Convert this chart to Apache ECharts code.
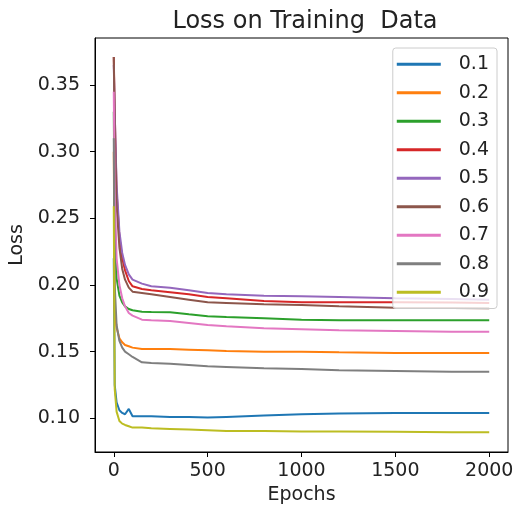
<!DOCTYPE html>
<html>
<head>
<meta charset="utf-8">
<script src="https://cdn.jsdelivr.net/npm/echarts@6/dist/echarts.min.js"></script>
<style>
    html, body {margin: 0; padding: 0; background: #fff;}
    #chart {width: 514px; height: 512px;}
</style>
</head>
<body>
<div id="chart"></div>
<script>
var epochs = [0, 5, 15, 30, 45, 60, 80, 100, 150, 200, 300, 400, 500, 600, 800, 1000, 1200, 1500, 1800, 2000];
var names = ['0.1', '0.2', '0.3', '0.4', '0.5', '0.6', '0.7', '0.8', '0.9'];
var loss01 = [0.220, 0.125, 0.112, 0.106, 0.104, 0.103, 0.107, 0.1015, 0.1015, 0.1015, 0.101, 0.101, 0.1005, 0.101, 0.102, 0.103, 0.1035, 0.104, 0.104, 0.104];
var loss02 = [0.300, 0.180, 0.168, 0.160, 0.157, 0.155, 0.154, 0.153, 0.152, 0.152, 0.152, 0.1515, 0.151, 0.1505, 0.150, 0.150, 0.1495, 0.149, 0.149, 0.149];
var loss03 = [0.330, 0.240, 0.205, 0.192, 0.187, 0.184, 0.182, 0.181, 0.180, 0.1798, 0.1795, 0.178, 0.1766, 0.176, 0.175, 0.174, 0.1736, 0.1736, 0.1735, 0.1735];
var loss04 = [0.371, 0.330, 0.270, 0.236, 0.220, 0.211, 0.203, 0.199, 0.197, 0.196, 0.1946, 0.193, 0.191, 0.190, 0.188, 0.187, 0.187, 0.187, 0.1868, 0.1865];
var loss05 = [0.365, 0.330, 0.275, 0.240, 0.224, 0.215, 0.208, 0.204, 0.201, 0.199, 0.198, 0.196, 0.194, 0.193, 0.192, 0.1915, 0.191, 0.190, 0.1895, 0.189];
var loss06 = [0.371, 0.320, 0.260, 0.228, 0.212, 0.204, 0.198, 0.195, 0.194, 0.193, 0.191, 0.189, 0.187, 0.1865, 0.1855, 0.185, 0.184, 0.183, 0.1828, 0.1825];
var loss07 = [0.345, 0.270, 0.220, 0.200, 0.190, 0.184, 0.179, 0.177, 0.174, 0.1735, 0.173, 0.1715, 0.170, 0.169, 0.1675, 0.1668, 0.166, 0.1655, 0.165, 0.165];
var loss08 = [0.310, 0.200, 0.170, 0.158, 0.153, 0.150, 0.148, 0.146, 0.142, 0.1415, 0.141, 0.140, 0.139, 0.1385, 0.1375, 0.137, 0.136, 0.1355, 0.135, 0.135];
var loss09 = [0.259, 0.122, 0.105, 0.098, 0.096, 0.095, 0.094, 0.093, 0.093, 0.0925, 0.092, 0.0915, 0.091, 0.0905, 0.0905, 0.090, 0.090, 0.0898, 0.0895, 0.0895];
var xTicks = [0, 500, 1000, 1500, 2000];
var yTicks = [0.10, 0.15, 0.20, 0.25, 0.30, 0.35];

var allLoss = [loss01, loss02, loss03, loss04, loss05, loss06, loss07, loss08, loss09];
var font = 'DejaVu Sans';

var series = names.map(function (name, i) {
    return {
        name: name,
        type: 'line',
        showSymbol: false,
        lineStyle: {width: 2},
        data: epochs.map(function (e, j) { return [e, allLoss[i][j]]; })
    };
});

var option = {
    animation: false,
    color: ['#1f77b4', '#ff7f0e', '#2ca02c', '#d62728', '#9467bd', '#8c564b', '#e377c2', '#7f7f7f', '#bcbd22'],
    title: {
        text: 'Loss on Training  Data',
        left: 300,
        textAlign: 'center',
        top: 5,
        textStyle: {fontFamily: font, fontSize: 24, fontWeight: 'normal', color: '#222'}
    },
    legend: {
        orient: 'vertical',
        right: 17,
        top: 48,
        icon: 'rect',
        itemWidth: 44,
        itemHeight: 3,
        itemGap: 8,
        padding: [6, 8, 6, 4],
        backgroundColor: 'rgba(255,255,255,0.8)',
        borderColor: '#ccc',
        borderWidth: 1,
        borderRadius: 3,
        textStyle: {fontFamily: font, fontSize: 19, color: '#222', lineHeight: 20.5, padding: [0, 0, 0, 13]},
        data: names
    },
    grid: {
        left: 95,
        right: 6,
        top: 38,
        bottom: 60,
        outerBoundsMode: 'none',
        containLabel: false,
        show: true,
        borderColor: '#000',
        borderWidth: 1
    },
    xAxis: {
        type: 'value',
        min: -100,
        max: 2100,
        name: 'Epochs',
        nameLocation: 'middle',
        nameGap: 33,
        nameTextStyle: {fontFamily: font, fontSize: 19, color: '#222'},
        axisLine: {show: true, onZero: false, lineStyle: {color: '#000'}},
        axisTick: {show: true, length: 5, customValues: xTicks, lineStyle: {color: '#000'}},
        axisLabel: {
            fontFamily: font, fontSize: 19, color: '#222', margin: 10, customValues: xTicks,
            formatter: function (v) { return String(v); }
        },
        splitLine: {show: false}
    },
    yAxis: {
        type: 'value',
        min: 0.0747,
        max: 0.3853,
        name: 'Loss',
        nameLocation: 'middle',
        nameGap: 68,
        nameTextStyle: {fontFamily: font, fontSize: 19, color: '#222'},
        axisLine: {show: true, onZero: false, lineStyle: {color: '#000'}},
        axisTick: {show: true, length: 5, customValues: yTicks, lineStyle: {color: '#000'}},
        axisLabel: {
            fontFamily: font, fontSize: 19, color: '#222', margin: 15, customValues: yTicks,
            formatter: function (v) { return v.toFixed(2); }
        },
        splitLine: {show: false}
    },
    series: series
};

var myChart = echarts.init(document.getElementById('chart'));
myChart.setOption(option);
</script>
</body>
</html>
